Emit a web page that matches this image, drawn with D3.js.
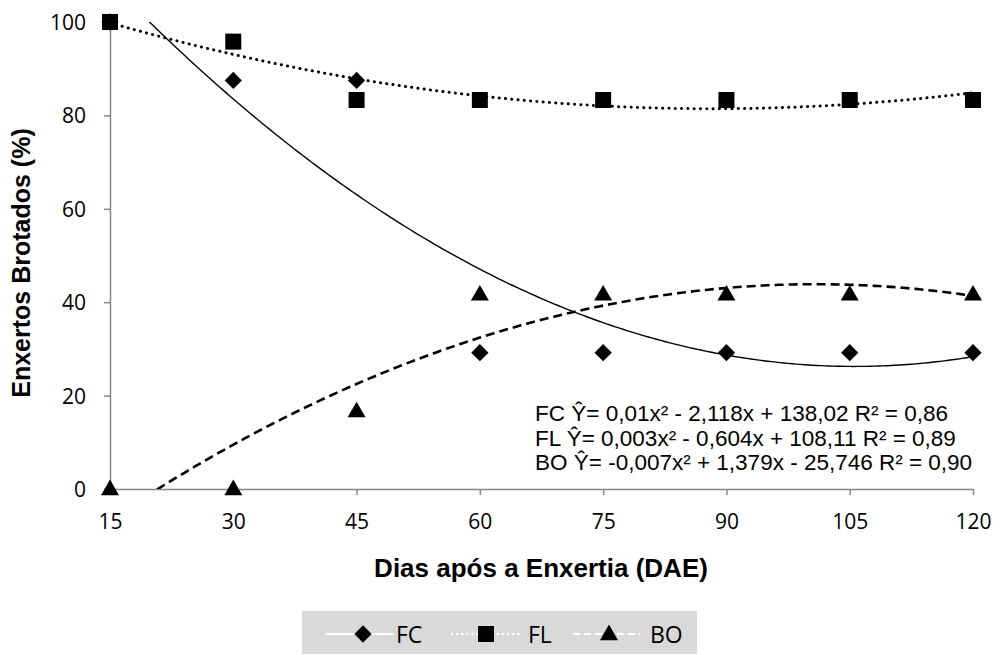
<!DOCTYPE html>
<html><head><meta charset="utf-8">
<script src="https://cdn.jsdelivr.net/npm/d3@7"></script>
<style>body{margin:0;background:#fff}svg{display:block}</style>
</head><body>
<svg id="c" width="1000" height="655"></svg>
<script>
const days = [15, 30, 45, 60, 75, 90, 105, 120];
const fcValues = [100, 87.5, 87.5, 29.2, 29.2, 29.2, 29.2, 29.2];
const flValues = [100, 95.8, 83.3, 83.3, 83.3, 83.3, 83.3, 83.3];
const boValues = [0, 0, 16.7, 41.7, 41.7, 41.7, 41.7, 41.7];
const yTicks = [0, 20, 40, 60, 80, 100];
const seriesNames = ["FC", "FL", "BO"];
const equations = [
  "FC Ŷ= 0,01x² - 2,118x + 138,02 R² = 0,86",
  "FL Ŷ= 0,003x² - 0,604x + 108,11 R² = 0,89",
  "BO Ŷ= -0,007x² + 1,379x - 25,746 R² = 0,90"
];

const svg = d3.select("#c");
const x = d3.scaleLinear().domain([15, 120]).range([110, 973]);
const y = d3.scaleLinear().domain([0, 100]).range([489, 22]);

// quadratic least squares fit (Excel polynomial trendline)
function quadFit(xs, ys) {
  let n = xs.length, S = [0,0,0,0,0], T = [0,0,0];
  for (let i = 0; i < n; i++) {
    const xv = xs[i];
    for (let k = 0; k < 5; k++) S[k] += Math.pow(xv, k);
    for (let k = 0; k < 3; k++) T[k] += ys[i] * Math.pow(xv, k);
  }
  const A = [[S[0],S[1],S[2],T[0]],[S[1],S[2],S[3],T[1]],[S[2],S[3],S[4],T[2]]];
  for (let i = 0; i < 3; i++) {
    for (let j = i + 1; j < 3; j++) {
      const f = A[j][i] / A[i][i];
      for (let k = i; k < 4; k++) A[j][k] -= f * A[i][k];
    }
  }
  const c = [0,0,0];
  for (let i = 2; i >= 0; i--) {
    let s = A[i][3];
    for (let k = i + 1; k < 3; k++) s -= A[i][k] * c[k];
    c[i] = s / A[i][i];
  }
  return t => c[0] + c[1]*t + c[2]*t*t;
}

svg.append("defs").append("clipPath").attr("id", "plot")
  .append("rect").attr("x", 110).attr("y", 22).attr("width", 863).attr("height", 467);

// axes
const axColor = "#898989";
const xAxis = svg.append("g").attr("transform", "translate(0,489)")
  .call(d3.axisBottom(x).tickValues(days).tickSize(6).tickPadding(19).tickFormat(d3.format("d")));
const yAxis = svg.append("g").attr("transform", "translate(110,0)")
  .call(d3.axisLeft(y).tickValues(yTicks).tickSize(6).tickPadding(18).tickFormat(d3.format("d")));
[xAxis, yAxis].forEach(g => {
  g.select(".domain").attr("stroke", axColor).attr("stroke-width", 1.5);
  g.selectAll(".tick line").attr("stroke", axColor).attr("stroke-width", 1.5);
  g.selectAll(".tick text").attr("fill", "#000").style("font-family", "'Open Sans'").style("font-size", "21px");
});
xAxis.select(".domain").attr("d", "M110,0.5H973");
yAxis.select(".domain").attr("d", "M0.5,22V489");
yAxis.selectAll(".tick text").attr("dy", "0.36em");

// trend lines
const styles = [
  {dash: null, width: 1.4, cap: "butt"},
  {dash: "0.1,6.2", width: 3, cap: "round"},
  {dash: "9,5", width: 2.6, cap: "butt"}
];
const allValues = [fcValues, flValues, boValues];
const curveG = svg.append("g").attr("clip-path", "url(#plot)");
allValues.forEach((vals, i) => {
  const f = quadFit(days, vals);
  const pts = d3.range(15, 120.01, 0.5).map(t => [t, f(t)]);
  const line = d3.line().x(d => x(d[0])).y(d => y(d[1]));
  curveG.append("path").attr("d", line(pts)).attr("fill", "none")
    .attr("stroke", "#000").attr("stroke-width", styles[i].width)
    .attr("stroke-dasharray", styles[i].dash).attr("stroke-linecap", styles[i].cap);
});

// markers
const symbols = [
  d3.symbol().type(d3.symbolDiamond2).size(190),
  d3.symbol().type(d3.symbolSquare).size(256),
  d3.symbol().type(d3.symbolTriangle).size(140)
];
allValues.forEach((vals, i) => {
  const g = svg.append("g");
  vals.forEach((v, j) => {
    g.append("path").attr("d", symbols[i]()).attr("fill", "#000")
      .attr("transform", `translate(${x(days[j])},${y(v) + (i === 2 ? 1 : 0)})`);
  });
});

// equations
const eqG = svg.append("g").style("font-family", "'Liberation Sans', Arial").style("font-size", "22.5px");
equations.forEach((e, i) => {
  eqG.append("text").attr("x", 535).attr("y", 421 + i * 24.5).text(e);
});

// axis titles
svg.append("text").attr("transform", "translate(30,263) rotate(-90)").attr("text-anchor", "middle")
  .style("font-family", "'Liberation Sans', Arial").style("font-weight", "bold").style("font-size", "25px")
  .text("Enxertos Brotados (%)");
svg.append("text").attr("x", 541).attr("y", 577).attr("text-anchor", "middle")
  .style("font-family", "'Liberation Sans', Arial").style("font-weight", "bold").style("font-size", "26px")
  .text("Dias após a Enxertia (DAE)");

// legend
const lg = svg.append("g");
lg.append("rect").attr("x", 302).attr("y", 611).attr("width", 395).attr("height", 43).attr("fill", "#d9d9d9");
const legItems = [
  {x0: 326, x1: 394, mx: 363, tx: 396},
  {x0: 452, x1: 521, mx: 486, tx: 528},
  {x0: 573, x1: 640, mx: 609, tx: 650}
];
const legDash = [null, "0.1,5", "7,4"];
const legSyms = [
  d3.symbol().type(d3.symbolDiamond2).size(190),
  d3.symbol().type(d3.symbolSquare).size(256),
  d3.symbol().type(d3.symbolTriangle).size(140)
];
legItems.forEach((it, i) => {
  lg.append("line").attr("x1", it.x0).attr("x2", it.x1).attr("y1", 634).attr("y2", 634)
    .attr("stroke", "#fff").attr("stroke-width", i === 1 ? 2.4 : 2)
    .attr("stroke-dasharray", legDash[i]).attr("stroke-linecap", i === 1 ? "round" : "butt");
  lg.append("path").attr("d", legSyms[i]()).attr("fill", "#000")
    .attr("transform", `translate(${it.mx},${634 + (i === 2 ? 1 : 0)})`);
  lg.append("text").attr("x", it.tx).attr("y", 643).style("font-family", "'Open Sans'").style("font-size", "23px")
    .text(seriesNames[i]);
});
</script>
</body></html>
